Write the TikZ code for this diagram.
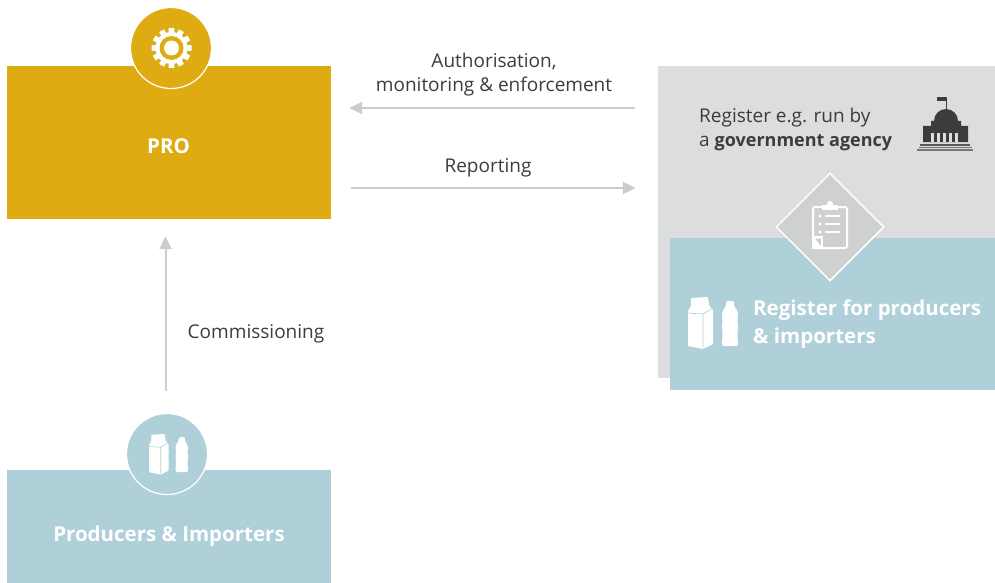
\documentclass[tikz,border=0pt]{standalone}
\usepackage{fontspec}
\setmainfont{Open Sans}
\usetikzlibrary{arrows.meta,positioning,shapes.geometric}
\definecolor{progold}{HTML}{DFAB12}
\definecolor{regblue}{HTML}{AFCFD9}
\definecolor{reggray}{HTML}{DCDDDF}
\definecolor{diagray}{HTML}{CFD1D1}
\definecolor{arrowgray}{HTML}{C9CDCD}
\definecolor{txtdark}{HTML}{3C3C3C}
\tikzset{
  panel/.style={inner sep=0pt,text=white,font=\fontsize{20.5}{28}\selectfont\bfseries},
  badge/.style={circle,draw=white,line width=1.2pt,minimum size=81pt,inner sep=0pt},
  lbl/.style={text=txtdark,font=\fontsize{19}{24}\selectfont,align=center,inner sep=0pt},
  flow/.style={arrowgray,line width=2pt,-{Triangle[length=13pt,width=12pt]}},
  packs/.pic={
    \fill[white,rounded corners=0.8pt] (0,14) -- (3,9) -- (3,1) -- (20,0) -- (21,8) -- (25,13) -- (25,47) -- (15,52) -- (0,49) -- cycle;
    \draw[regblue,line width=0.6pt] (0,16) -- (15,17) -- (25,11) (15,17) -- (15,50);
    \fill[white,rounded corners=1.5pt] (38,4) -- (38,9) -- (34,15) -- (34.5,24) -- (34,30) -- (34.5,37) -- (34,49) -- (50,49) -- (49.5,37) -- (50,30) -- (49.5,24) -- (50,15) -- (46,9) -- (46,4) -- cycle;
  },
  gearicon/.pic={
    \fill[white] (0,0) circle (16);
    \foreach \a in {0,30,...,330}
      \fill[white,rotate=\a,rounded corners=0.5pt] (-2.8,-20) rectangle (2.8,-14);
    \fill[progold] (0,0) circle (12);
    \fill[white] (0,0) circle (7.5);
  },
  buildicon/.pic={
    \fill[txtdark] (28.5,0) rectangle (29.5,12);
    \fill[txtdark] (20,0) rectangle (28.5,4);
    \fill[txtdark] (17,24) arc (180:360:12) -- cycle;
    \fill[txtdark] (6,45) -- (6,29) -- (14,29) -- (14,24) -- (44,24) -- (44,29) -- (51,29) -- (51,45) -- cycle;
    \foreach \c in {13.5,19.5,25.5,31.5,37.5}
      \fill[reggray] (\c,36) rectangle ++(3.6,8.5);
    \fill[txtdark!85] (3,46.5) rectangle (53,48.5);
    \fill[txtdark!70] (1.5,49.5) rectangle (54.5,51);
    \fill[txtdark!70] (0,52) rectangle (56,53.5);
  },
  clipicon/.pic={
    \draw[white,line width=2pt,rounded corners=1.5pt,fill=diagray] (1,4) rectangle (35,45);
    \fill[white] (10,1.5) rectangle (26,6.5);
    \fill[white] (18,1) circle (3);
    \foreach \r in {13,21,29} {
      \fill[white] (8,\r) circle (1.7);
      \fill[white] (13,\r-0.8) rectangle (28,\r+0.8);
    }
    \fill[white] (0,33) -- (11,33) -- (11,46) -- (0,46) -- cycle;
    \fill[diagray] (3,35.5) -- (9,35.5) -- (9,43) -- cycle;
  }
}
\begin{document}
\begin{tikzpicture}[x=1pt,y=-1pt]
   \useasboundingbox (0,0) rectangle (995,583);
   % boxes
   \node[fill=progold,inner sep=0pt,minimum width=324pt,minimum height=153pt] (pro) at (169,142.5) {};
   \node[panel] (protxt) at (168.5,146.5) {PRO};
   \node[fill=regblue,inner sep=0pt,minimum width=324pt,minimum height=113pt] (prod) at (169,526.5) {};
   \node[panel] (prodtxt) at (169,536) {Producers \& Importers};
   \node[fill=reggray,inner sep=0pt,minimum width=337pt,minimum height=312pt] (regist) at (826.5,222) {};
   \node[fill=regblue,inner sep=0pt,minimum width=325pt,minimum height=152pt] (regprod) at (832.5,314) {};
   \node[panel,align=left,anchor=west] (regtxt) at (753,324) {Register for producers\\\& importers};
   \node[lbl,align=left,anchor=west] (govtxt) at (699,129.5) {Register e.g. run by\\a {\fontsize{18}{24}\selectfont\bfseries government agency}};
   % badges
   \node[badge,fill=progold] (gear) at (171,48) {};
   \node[badge,fill=regblue] (prodbadge) at (167,454) {};
   \node[diamond,aspect=1,draw=white,line width=1.5pt,fill=diagray,minimum width=108pt,minimum height=108pt,inner sep=0pt] (clip) at (830,227) {};
   % icons
   \pic at (171.5,48) {gearicon};
   \pic[scale=0.78] at (149,434) {packs};
   \pic at (688,297) {packs};
   \pic at (917,97) {buildicon};
   \pic at (812,203) {clipicon};
   % labels
   \node[lbl] (auth) at (494,74.5) {Authorisation,\\monitoring \& enforcement};
   \node[lbl] (rep) at (488,168) {Reporting};
   \node[lbl] (comm) at (256,334) {Commissioning};
   % arrows
   \coordinate (authy) at (0,108);
   \coordinate (repy) at (0,188);
   \coordinate (commx) at (165.5,0);
   \draw[flow,shorten <=23pt,shorten >=18pt] (regist.west |- authy) -- (pro.east |- authy);
   \draw[flow,shorten <=20pt,shorten >=22pt] (pro.east |- repy) -- (regist.west |- repy);
   \draw[flow,shorten <=79pt,shorten >=17pt] (prod.north -| commx) -- (pro.south -| commx);
\end{tikzpicture}
\end{document}
